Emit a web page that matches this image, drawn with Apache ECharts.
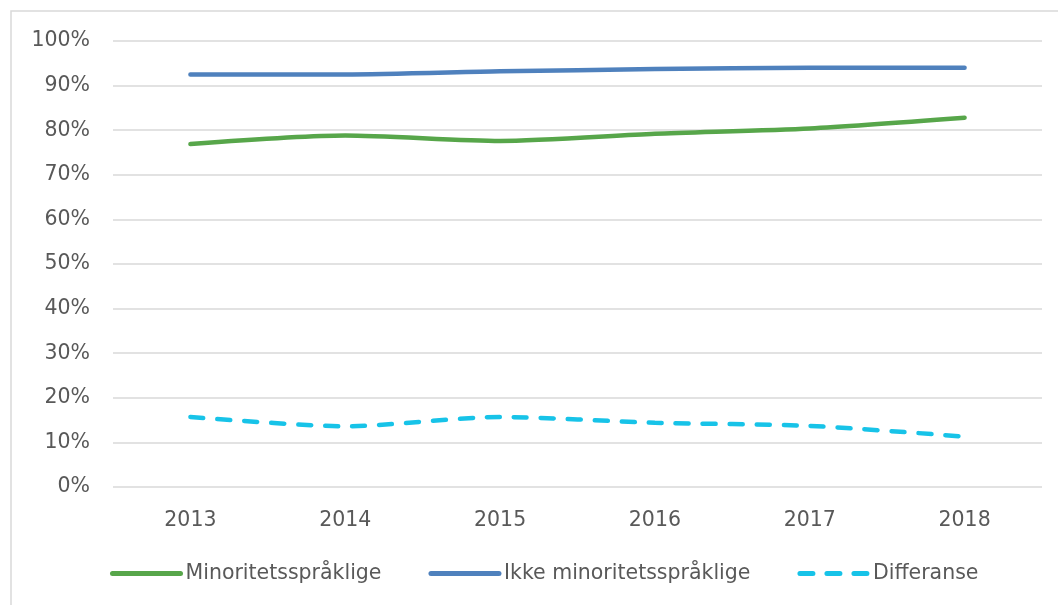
<!DOCTYPE html>
<html><head><meta charset="utf-8">
<script src="https://cdn.jsdelivr.net/npm/echarts@6/dist/echarts.min.js"></script>
<style>html,body{margin:0;padding:0;background:#fff}#c{width:1058px;height:605px}</style>
</head><body><div id="c"></div>
<script>
const years = ['2013','2014','2015','2016','2017','2018'];
const minoritet = [76.9, 78.8, 77.6, 79.2, 80.4, 82.8];
const ikkeMinoritet = [92.5, 92.5, 93.2, 93.7, 94.0, 94.0];
const differanse = [15.7, 13.6, 15.7, 14.4, 13.7, 11.3];
const yTicks = [0,10,20,30,40,50,60,70,80,90,100];

const FONT = 'DejaVu Sans';
const FS = 20.5;
const chart = echarts.init(document.getElementById('c'), null, {renderer:'canvas'});
chart.setOption({
  animation:false,
  backgroundColor:'#fff',
  graphic:[{type:'rect', shape:{x:11,y:11,width:1060,height:620}, style:{fill:'none',stroke:'#d9d9d9',lineWidth:1.5}, silent:true}],
  grid:{left:113,right:16,top:41,bottom:118,containLabel:false},
  legend:{
    top:563, left:110, itemWidth:68, itemHeight:14, itemGap:47, padding:0,
    itemStyle:{opacity:0},
    lineStyle:{width:5,cap:'round'},
    textStyle:{fontFamily:FONT,fontSize:FS,color:'#595959'},
    data:['Minoritetsspråklige','Ikke minoritetsspråklige','Differanse']
  },
  xAxis:{type:'category',data:years,boundaryGap:true,
    axisLine:{show:false},axisTick:{show:false},
    axisLabel:{fontFamily:FONT,fontSize:FS,color:'#595959',margin:23}},
  yAxis:{type:'value',min:0,max:100,interval:10,
    axisLabel:{fontFamily:FONT,fontSize:FS,color:'#595959',margin:23,
      formatter:v=>yTicks.includes(v)?v+'%':''},
    splitLine:{lineStyle:{color:'#d9d9d9',width:1.5}},
    axisLine:{show:false},axisTick:{show:false}},
  series:[
    {name:'Minoritetsspråklige',type:'line',data:minoritet,smooth:0.25,symbol:'none',
      lineStyle:{color:'#57a64a',width:4.5,cap:'round'},itemStyle:{color:'#57a64a'}},
    {name:'Ikke minoritetsspråklige',type:'line',data:ikkeMinoritet,smooth:0.25,symbol:'none',
      lineStyle:{color:'#4f81bd',width:4.5,cap:'round'},itemStyle:{color:'#4f81bd'}},
    {name:'Differanse',type:'line',data:differanse,smooth:0.25,symbol:'none',
      lineStyle:{color:'#17c3e8',width:4.5,type:[13,14],cap:'round'},itemStyle:{color:'#17c3e8'}}
  ]
});
</script></body></html>
